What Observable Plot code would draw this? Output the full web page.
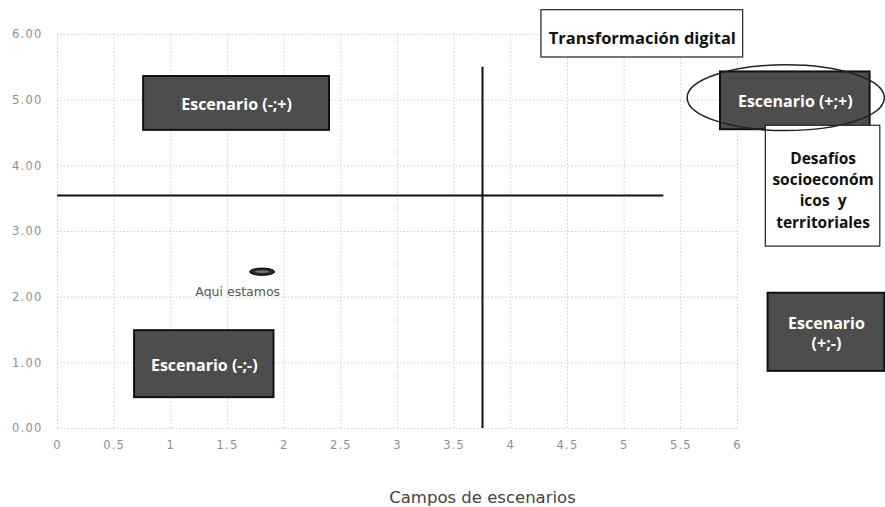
<!DOCTYPE html>
<html>
<head>
<meta charset="utf-8">
<script src="https://cdn.jsdelivr.net/npm/d3@7"></script>
<script src="https://cdn.jsdelivr.net/npm/@observablehq/plot@0.6"></script>
<style>
  html, body { margin: 0; padding: 0; background: #fff; }
  #chart svg { display: block; }
</style>
</head>
<body>
<div id="chart"></div>
<script>
// ---- data ----
const xTicks = [0, 0.5, 1, 1.5, 2, 2.5, 3, 3.5, 4, 4.5, 5, 5.5, 6];
const yTicks = [0, 1, 2, 3, 4, 5, 6];
const yTickLabels = ["0.00", "1.00", "2.00", "3.00", "4.00", "5.00", "6.00"];

// dark scenario boxes (data coordinates)
const scenarioLabels = ["Escenario (-;+)", "Escenario (-;-)", "Escenario (+;+)", "Escenario\n(+;-)"];
const scenarioX1 = [0.76, 0.68, 5.85, 6.27];
const scenarioX2 = [2.40, 1.91, 7.17, 7.30];
const scenarioY1 = [4.54, 0.47, 4.55, 0.87];
const scenarioY2 = [5.36, 1.49, 5.43, 2.06];

// white note boxes
const noteLabels = ["Transformación digital", "Desafíos\nsocioeconóm\nicos  y\nterritoriales"];
const noteSizes = [16.5, 15.5];
const noteX1 = [4.27, 6.25];
const noteX2 = [6.05, 7.26];
const noteY1 = [5.65, 2.77];
const noteY2 = [6.37, 4.61];

// dividing lines
const splitX = 3.75;   // vertical line
const splitXTop = 5.5;
const splitY = 3.55;   // horizontal line
const splitYRight = 5.35;

// current position marker
const hereX = 1.81;
const hereY = 2.38;
const hereLabel = "Aqui estamos";

// highlight ellipse around (+;+)
const ringX = 6.43, ringY = 5.03, ringRx = 0.87, ringRy = 0.50;

const axisTitle = "Campos de escenarios";

// ---- build tables ----
const scenarios = scenarioLabels.map((t, i) => ({t, x1: scenarioX1[i], x2: scenarioX2[i], y1: scenarioY1[i], y2: scenarioY2[i]}));
const notes = noteLabels.map((t, i) => ({t, s: noteSizes[i], x1: noteX1[i], x2: noteX2[i], y1: noteY1[i], y2: noteY2[i]}));

const boxFont = "'Open Sans', Lato, sans-serif";
const lightFont = "'DejaVu Sans', sans-serif";

function ellipseMark(data, opts) {
  return (index, scales) => {
    const g = d3.create("svg:g");
    for (const d of data) {
      const cx = scales.x(d.x), cy = scales.y(d.y);
      const rx = Math.abs(scales.x(d.x + d.rx) - cx);
      const ry = Math.abs(scales.y(d.y + d.ry) - cy);
      g.append("ellipse")
        .attr("cx", cx).attr("cy", cy).attr("rx", rx).attr("ry", ry)
        .attr("fill", opts.fill).attr("stroke", opts.stroke).attr("stroke-width", opts.strokeWidth);
      if (opts.highlight) {
        g.append("ellipse")
          .attr("cx", cx).attr("cy", cy).attr("rx", rx * 0.55).attr("ry", ry * 0.35)
          .attr("fill", opts.highlight);
      }
    }
    return g.node();
  };
}

const chart = Plot.plot({
  width: 885,
  height: 507,
  marginLeft: 57,
  marginRight: 148,
  marginTop: 34,
  marginBottom: 79,
  style: {fontFamily: lightFont, background: "#fff"},
  x: {domain: [0, 6], ticks: xTicks},
  y: {domain: [0, 6], ticks: yTicks},
  marks: [
    // grid
    Plot.gridX(xTicks, {stroke: "#bbb", strokeOpacity: 0.7, strokeDasharray: "1.5,2"}),
    Plot.gridY(yTicks, {stroke: "#bbb", strokeOpacity: 0.7, strokeDasharray: "1.5,2"}),
    Plot.axisX(xTicks, {tickSize: 0, tickPadding: 12, fontSize: 11.5, fill: "#8f8f8f", label: null,
      fontFamily: lightFont, tickFormat: d => String(d)}),
    Plot.axisY(yTicks, {tickSize: 0, tickPadding: 15, fontSize: 11.5, fill: "#8f8f8f", label: null,
      fontFamily: lightFont, tickFormat: (d, i) => yTickLabels[i]}),
    // dividing lines
    Plot.ruleY([splitY], {x1: 0, x2: splitYRight, stroke: "#111", strokeWidth: 2}),
    Plot.ruleX([splitX], {y1: 0, y2: splitXTop, stroke: "#111", strokeWidth: 2}),
    // boxes
    Plot.rect(scenarios, {x1: "x1", x2: "x2", y1: "y1", y2: "y2", fill: "#4d4d4d", stroke: "#111", strokeWidth: 2}),
    Plot.text(scenarios, {x: d => (d.x1 + d.x2) / 2, y: d => (d.y1 + d.y2) / 2, text: "t",
      fill: "#fff", fontSize: 16, fontWeight: "bold", lineHeight: 1.3, fontFamily: boxFont}),
    Plot.rect(notes, {x1: "x1", x2: "x2", y1: "y1", y2: "y2", fill: "#fff", stroke: "#222", strokeWidth: 1.2}),
    Plot.text(notes, {x: d => (d.x1 + d.x2) / 2, y: d => (d.y1 + d.y2) / 2, dy: 3, text: "t",
      fill: "#111", fontSize: "s", fontWeight: "bold", lineHeight: 1.36, fontFamily: boxFont}),
    // highlight ring
    ellipseMark([{x: ringX, y: ringY, rx: ringRx, ry: ringRy}], {fill: "none", stroke: "#222", strokeWidth: 1.5}),
    // current position
    ellipseMark([{x: hereX, y: hereY, rx: 0.11, ry: 0.055}], {fill: "#2a2a2a", stroke: "#000", strokeWidth: 1, highlight: "#777"}),
    Plot.text([hereLabel], {x: hereX - 0.22, y: hereY, dy: 20, text: d => d, fill: "#555", fontSize: 12.5, fontFamily: lightFont}),
    // axis title
    Plot.text([axisTitle], {x: splitX, y: 0, dy: 69, text: d => d, fill: "#444", fontSize: 16.5, fontFamily: lightFont})
  ]
});

d3.select(chart).selectAll("g[aria-label='x-axis tick label'] text, g[aria-label='y-axis tick label'] text")
  .style("letter-spacing", "1.2px");

document.getElementById("chart").appendChild(chart);
</script>
</body>
</html>
